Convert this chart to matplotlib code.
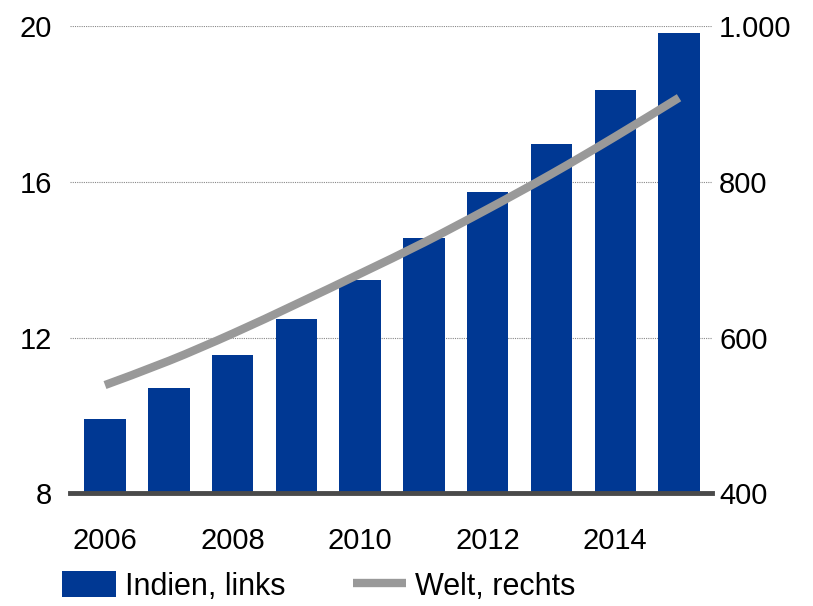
import numpy as np
import matplotlib.pyplot as plt
from matplotlib.patches import Patch, PathPatch
from matplotlib.lines import Line2D
from matplotlib.path import Path

plt.rcParams["font.family"] = ["Liberation Sans", "DejaVu Sans"]

# Data
years = [2006, 2007, 2008, 2009, 2010, 2011, 2012, 2013, 2014, 2015]
indien = [9.90, 10.70, 11.55, 12.47, 13.47, 14.55, 15.73, 16.97, 18.35, 19.82]
welt = [539, 570, 605, 643, 682, 722, 765, 810, 858, 908]
left_ticks = [8, 12, 16, 20]
right_ticks = [400, 600, 800, 1000]
right_labels = ["400", "600", "800", "1.000"]
xtick_years = [2006, 2008, 2010, 2012, 2014]

blue = "#003893"
grey = "#999999"


def smooth_path(xs, ys):
    # Catmull-Rom style bezier through the points (like Excel's smoothed line)
    verts = [(xs[0], ys[0])]
    codes = [Path.MOVETO]
    n = len(xs)
    for i in range(n - 1):
        x0, y0 = (xs[i - 1], ys[i - 1]) if i > 0 else (xs[i], ys[i])
        x1, y1 = xs[i], ys[i]
        x2, y2 = xs[i + 1], ys[i + 1]
        x3, y3 = (xs[i + 2], ys[i + 2]) if i + 2 < n else (x2, y2)
        verts += [(x1 + (x2 - x0) / 6, y1 + (y2 - y0) / 6),
                  (x2 - (x3 - x1) / 6, y2 - (y3 - y1) / 6),
                  (x2, y2)]
        codes += [Path.CURVE4] * 3
    return Path(verts, codes)


fig = plt.figure(figsize=(8.13, 6.06), dpi=100)
ax = fig.add_axes([0.086, 0.186, 0.79, 0.771])
ax2 = ax.twinx()

x = np.arange(len(years))
ax.bar(x, indien, width=0.65, color=blue, zorder=2)
ax2.add_patch(PathPatch(smooth_path(list(x), welt), facecolor="none",
                        edgecolor=grey, linewidth=6, capstyle="butt", zorder=3))

ax.set_ylim(8, 20)
ax2.set_ylim(400, 1000)
ax.set_xlim(-0.55, 9.52)

ax.set_yticks(left_ticks)
ax.set_yticklabels([str(v) for v in left_ticks])
ax2.set_yticks(right_ticks)
ax2.set_yticklabels(right_labels)

ax.set_xticks([years.index(y) for y in xtick_years])
ax.set_xticklabels([str(y) for y in xtick_years])

for a in (ax, ax2):
    for s in a.spines.values():
        s.set_visible(False)
    a.tick_params(length=0, labelsize=21, colors="black")
ax.tick_params(axis="y", pad=13)
ax2.tick_params(axis="y", pad=5)
ax.tick_params(axis="x", pad=24)

for v in left_ticks[1:]:
    ax.axhline(v, color="#888888", linewidth=0.8, linestyle=(0, (1, 1)), zorder=1)
ax.axhline(8, color="#4a4a4a", linewidth=3.5, zorder=4, clip_on=False)

ax.set_zorder(ax2.get_zorder() - 1)
ax.patch.set_visible(False)
ax2.patch.set_visible(False)

handles = [Patch(facecolor=blue, edgecolor="none"),
           Line2D([0], [0], color=grey, linewidth=6, solid_capstyle="butt")]
fig.legend(handles, ["Indien, links", "Welt, rechts"], loc="lower left",
           bbox_to_anchor=(0.043, -0.038), ncol=2, frameon=False, fontsize=22,
           handlelength=1.75, handleheight=0.95, handletextpad=0.3,
           columnspacing=2.2)

fig.savefig("out.png", dpi=100)
plt.close(fig)
